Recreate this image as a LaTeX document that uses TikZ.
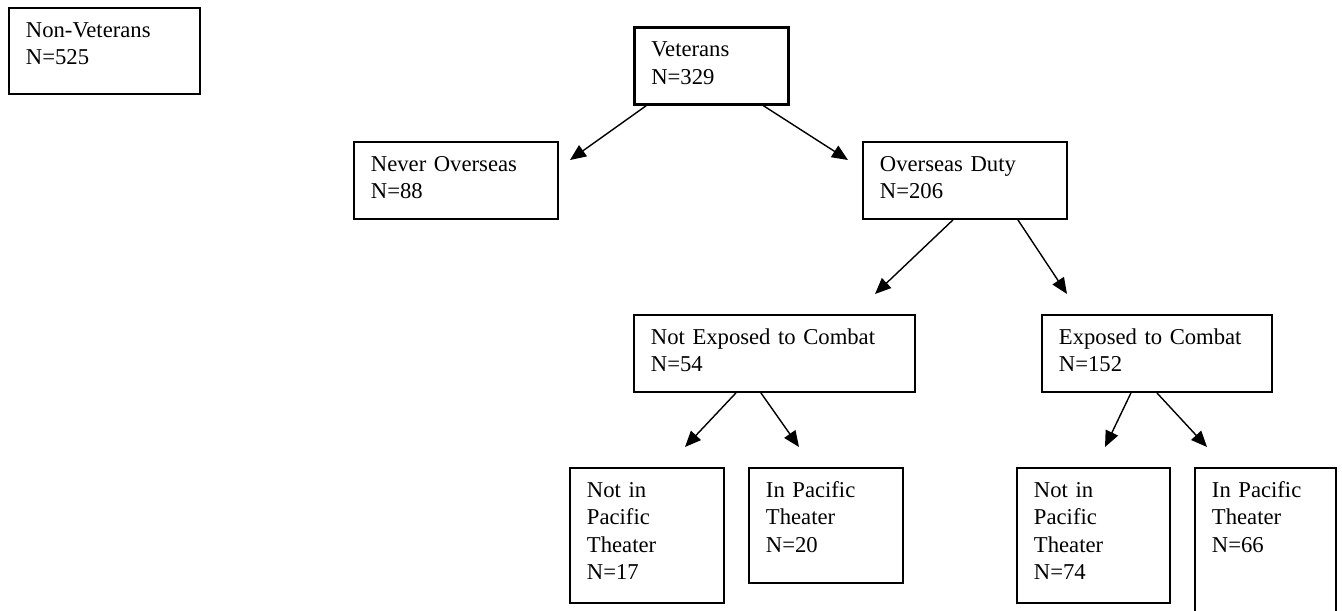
\documentclass[tikz,border=0pt]{standalone}
\usepackage{fontspec}
\setmainfont{Liberation Serif}
\usetikzlibrary{arrows.meta}

\begin{document}
\begin{tikzpicture}
[
x=0.02cm, y=-0.02cm,
Box/.style={rectangle, draw=black, line width=1.1pt, anchor=north west, align=left,
  inner xsep=0.34cm, inner ysep=0pt, text height=0.59cm,
  font=\fontsize{12.9}{15.6}\selectfont},
Arrow/.style={-{Triangle[length=0.32cm,width=0.27cm]}, line width=0.8pt},
]

\clip (0,0) rectangle (1342,610);

\node[Box, text width=3.14cm, text depth=1.13cm] (nonvet) at (8,7) {Non-Veterans\\N=525};
\node[Box, text width=2.40cm, text depth=0.95cm, line width=1.5pt] (vet) at (633,26) {Veterans\\N=329};

\node[Box, text width=3.40cm, text depth=0.95cm] (never) at (353,141) {Never Overseas\\N=88};
\node[Box, text width=3.40cm, text depth=0.95cm] (over) at (862,141) {Overseas Duty\\N=206};

\node[Box, text width=4.94cm, text depth=0.95cm] (notexp) at (633,314) {Not Exposed to Combat\\N=54};
\node[Box, text width=3.92cm, text depth=0.95cm] (exp) at (1041,314) {Exposed to Combat\\N=152};

\node[Box, text width=2.40cm, text depth=2.11cm] (np17) at (569,467) {Not in\\Pacific\\Theater\\N=17};
\node[Box, text width=2.40cm, text depth=1.71cm] (p20) at (748,467) {In Pacific\\Theater\\N=20};
\node[Box, text width=2.38cm, text depth=2.11cm] (np74) at (1016,467) {Not in\\Pacific\\Theater\\N=74};
\node[Box, text width=2.14cm, text depth=2.81cm] (p66) at (1194,467) {In Pacific\\Theater\\N=66};

% arrow tips stop short of the boxes
\coordinate (tnever) at (570,160);
\coordinate (tover) at (848,160);
\coordinate (tnotexp) at (875,294);
\coordinate (texp) at (1067,294);
\coordinate (tnp17) at (685,447);
\coordinate (tp20) at (799,447);
\coordinate (tnp74) at (1105,447);
\coordinate (tp66) at (1207,447);

\draw[Arrow] ([xshift=-1.30cm]vet.south) -- (tnever);
\draw[Arrow] ([xshift=1.04cm]vet.south) -- (tover);
\draw[Arrow] ([xshift=-0.24cm]over.south) -- (tnotexp);
\draw[Arrow] ([xshift=1.06cm]over.south) -- (texp);
\draw[Arrow] ([xshift=-0.77cm]notexp.south) -- (tnp17);
\draw[Arrow] ([xshift=-0.27cm]notexp.south) -- (tp20);
\draw[Arrow] ([xshift=-0.52cm]exp.south) -- (tnp74);
\draw[Arrow] (exp.south) -- (tp66);

\end{tikzpicture}
\end{document}
